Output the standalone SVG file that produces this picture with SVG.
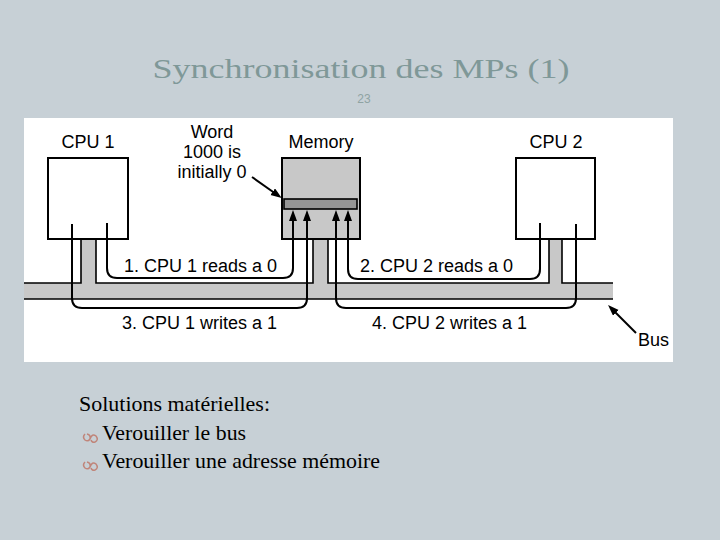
<svg xmlns="http://www.w3.org/2000/svg" width="720" height="540" viewBox="0 0 720 540">
<style>
.lbl{font-family:"Liberation Sans",Arial,sans-serif;font-size:18px;fill:#000}
.box{stroke:#000;stroke-width:2}
.wire{fill:none;stroke:#000;stroke-width:2}
.body{font-family:"Liberation Serif","Times New Roman",serif;font-size:21px;fill:#000}
.orn{fill:none;stroke:#c0857a;stroke-width:1.5}
</style>
<defs>
<marker id="ah" markerUnits="userSpaceOnUse" markerWidth="12" markerHeight="9" refX="4" refY="4" orient="auto">
<path d="M0,0 L11,4 L0,8 z" fill="#000"/>
</marker>
</defs>
<rect x="0" y="0" width="720" height="540" fill="#c7d0d6"/>
<text x="361" y="78" text-anchor="middle" font-family="Liberation Serif,serif" font-size="28" fill="#7f9898" textLength="417" lengthAdjust="spacingAndGlyphs">Synchronisation des MPs (1)</text>
<text x="364" y="103" text-anchor="middle" font-family="Liberation Sans,sans-serif" font-size="12" fill="#8fa3a3">23</text>
<rect x="24" y="118" width="649" height="244" fill="#fff"/>
<g id="bus">
<path d="M24,283 H81 V239 H96 V283 H313 V239 H328 V283 H549 V239 H562 V283 H613 V299 H24 Z" fill="#c8c8c8"/>
<path d="M24,283 H81 V239 M96,239 V283 H313 V239 M328,239 V283 H549 V239 M562,239 V283 H613 M24,299 H613" fill="none" stroke="#000" stroke-width="1.6"/>
<text class="lbl" x="638" y="346">Bus</text>
</g>
<g id="cpu1">
<rect class="box" x="48" y="158" width="80" height="81" fill="#fff"/>
<text class="lbl" x="88" y="148" text-anchor="middle">CPU 1</text>
</g>
<g id="cpu2">
<rect class="box" x="516" y="158" width="79" height="81" fill="#fff"/>
<text class="lbl" x="556" y="148" text-anchor="middle">CPU 2</text>
</g>
<g id="memory">
<rect class="box" x="282" y="158" width="78" height="81" fill="#c8c8c8"/>
<rect x="284" y="199" width="73" height="10" fill="#969696" stroke="#000" stroke-width="1.6"/>
<text class="lbl" x="321" y="148" text-anchor="middle">Memory</text>
</g>
<g id="word-note">
<text class="lbl" x="212" y="138" text-anchor="middle">Word</text>
<text class="lbl" x="212" y="158" text-anchor="middle">1000 is</text>
<text class="lbl" x="212" y="178" text-anchor="middle">initially 0</text>
</g>
<g id="connectors">
<path class="wire" d="M107,223 V268 Q107,278 117,278 H283 Q293,278 293,268 V217" marker-end="url(#ah)"/>
<path class="wire" d="M72,224 V298 Q72,308 82,308 H297 Q307,308 307,298 V217" marker-end="url(#ah)"/>
<path class="wire" d="M540,223 V269 Q540,279 530,279 H358 Q348,279 348,269 V217" marker-end="url(#ah)"/>
<path class="wire" d="M576,224 V298 Q576,308 566,308 H346 Q336,308 336,298 V217" marker-end="url(#ah)"/>
<path class="wire" d="M252,177 L276,194" marker-end="url(#ah)"/>
<path class="wire" d="M636,333 L613,310" marker-end="url(#ah)"/>
<text class="lbl" x="124" y="272">1. CPU 1 reads a 0</text>
<text class="lbl" x="360" y="272">2. CPU 2 reads a 0</text>
<text class="lbl" x="122" y="329">3. CPU 1 writes a 1</text>
<text class="lbl" x="372" y="329">4. CPU 2 writes a 1</text>
</g>
<g id="notes">
<text class="body" x="79" y="411" textLength="191" lengthAdjust="spacingAndGlyphs">Solutions matérielles:</text>
<path class="orn" d="M85,434 q-3,3 0,6 q3,2 5,-1 q1,-4 -3,-5 M90,439 q2,-6 6,-3 q3,4 -1,6 q-3,1 -4,-2"/>
<text class="body" x="102" y="440" textLength="144" lengthAdjust="spacingAndGlyphs">Verouiller le bus</text>
<path class="orn" d="M85,462 q-3,3 0,6 q3,2 5,-1 q1,-4 -3,-5 M90,467 q2,-6 6,-3 q3,4 -1,6 q-3,1 -4,-2"/>
<text class="body" x="102" y="468" textLength="278" lengthAdjust="spacingAndGlyphs">Verouiller une adresse mémoire</text>
</g>
</svg>
